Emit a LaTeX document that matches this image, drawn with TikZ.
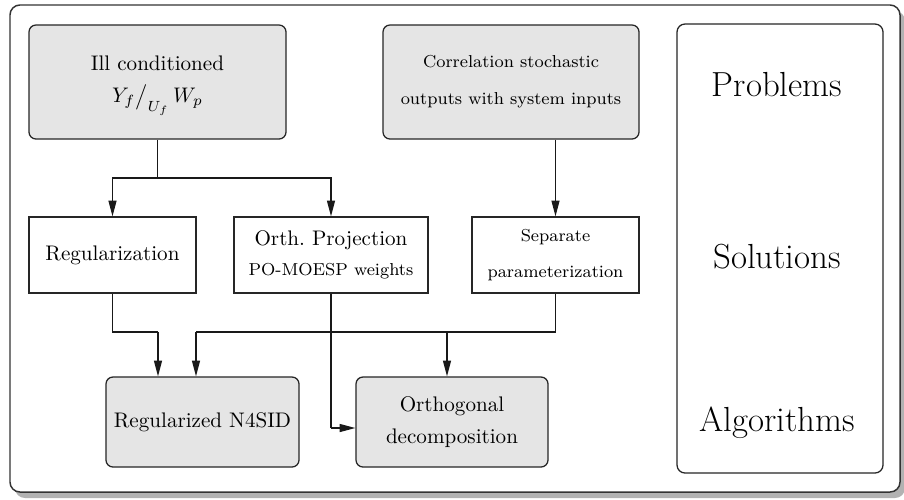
\documentclass[tikz,border=0pt]{standalone}
\usepackage{fontspec}
\usetikzlibrary{arrows.meta}
\newcommand\pxu{0.4739}
\begin{document}
\begin{tikzpicture}[x=0.4739pt,y=-0.4739pt,
  graybox/.style={draw=black!85, line width=0.6pt, rounded corners=3.3pt,
    fill=black!10, align=center, inner sep=0pt},
  plainbox/.style={draw=black!85, line width=0.6pt, fill=white,
    align=center, inner sep=0pt},
  sidebox/.style={draw=black!85, line width=0.6pt, rounded corners=3.8pt,
    fill=white, inner sep=0pt},
  sidelabel/.style={font=\fontsize{16.5}{19}\selectfont, inner sep=0pt},
  textline/.style={inner sep=0pt},
  smalltext/.style={font=\fontsize{8.2}{10}\selectfont},
  arr/.style={line width=0.6pt, draw=black!90,
    -{Triangle[length=7.5pt,width=3.8pt]}},
  link/.style={line width=0.6pt, draw=black!90}]
\useasboundingbox (0,0) rectangle (904,499);

% frame with its shadow
\fill[black!30, rounded corners=4.7pt] (15,11) rectangle (905,498);
\draw[black!80, line width=0.7pt, fill=white, rounded corners=4.7pt]
  (10,5) rectangle (900,492);

% problems
\node[graybox, minimum width={257*\pxu}, minimum height={114*\pxu}]
  (ill) at (157.5,82) {};
\node[textline] (illa) at (157.5,63) {Ill conditioned};
\node[textline] (illb) at (157.5,100) {$Y_f\big/_{U_f}\,W_p$};
\node[graybox, minimum width={256*\pxu}, minimum height={114*\pxu}, smalltext]
  (corr) at (511,82) {Correlation stochastic\\[7.5pt]outputs with system inputs};

% solutions
\node[plainbox, minimum width={167*\pxu}, minimum height={76*\pxu}]
  (reg) at (112.5,255) {Regularization};
\node[plainbox, minimum width={194*\pxu}, minimum height={76*\pxu}]
  (orth) at (331,255) {Orth.\ Projection\\[2pt]{\fontsize{8.2}{10}\selectfont PO-MOESP weights}};
\node[plainbox, minimum width={167*\pxu}, minimum height={76*\pxu}, smalltext]
  (sep) at (555.5,255) {Separate\\[7pt]parameterization};

% algorithms
\node[graybox, minimum width={193*\pxu}, minimum height={90*\pxu}]
  (n4) at (202.5,422) {Regularized N4SID};
\node[graybox, minimum width={192*\pxu}, minimum height={90*\pxu}]
  (od) at (452,422) {Orthogonal\\[3pt]decomposition};

% legend column
\node[sidebox, minimum width={206*\pxu}, minimum height={449*\pxu}]
  (side) at (780,248.5) {};
\node[sidelabel] (lp) at (777,85) {Problems};
\node[sidelabel] (ls) at (777,257) {Solutions};
\node[sidelabel] (la) at (777,423) {Algorithms};

% connectors
\coordinate (j1) at (157.5,178);
\draw[link] (ill.south) -- (j1);
\draw[arr] (j1) -| (reg.north);
\draw[arr] (j1) -| (orth.north);
\draw[arr] (corr.south -| sep.north) -- (sep.north);

\coordinate (j2) at (158,332);
\coordinate (j3) at (196,332);
\coordinate (j4) at (447,332);
\draw[link] (reg.south) |- (j2);
\draw[arr] (j2) -- (j2 |- n4.north);
\draw[link] (sep.south) |- (j3);
\draw[arr] (j3) -- (j3 |- n4.north);
\draw[arr] (j4) -- (j4 |- od.north);

\coordinate (j5) at (331,428);
\draw[link] (orth.south) -- (j5);
\draw[arr] (j5) -- (j5 -| od.west);
\end{tikzpicture}
\end{document}
